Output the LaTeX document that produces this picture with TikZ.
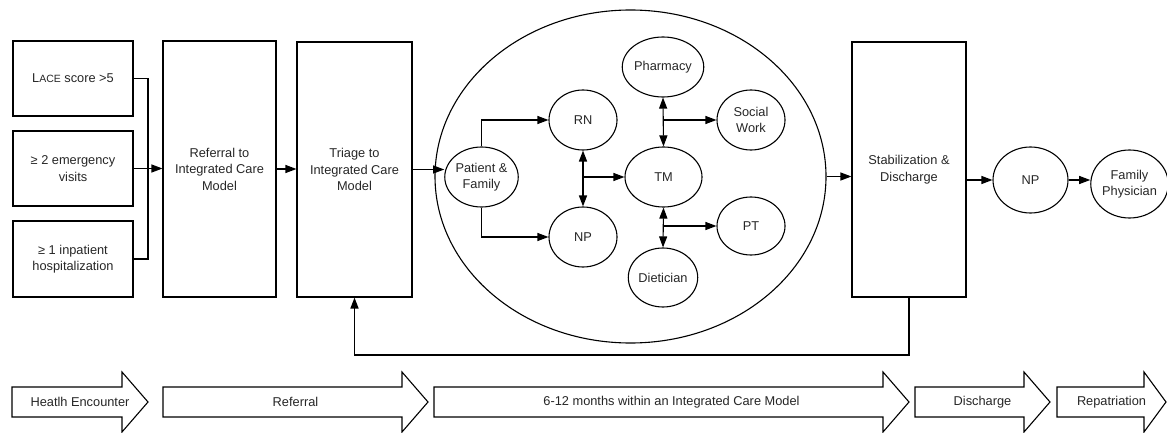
\documentclass[tikz,border=0pt]{standalone}
\usepackage{fontspec}
\setmainfont{Liberation Sans}
\usetikzlibrary{arrows.meta,shapes.geometric}
\begin{document}
\begin{tikzpicture}[x=1pt,y=-1pt,
  every node/.style={font=\fontsize{12.8}{16.5}\selectfont, text=black!85},
  box/.style={draw, line width=1.1pt, rectangle, inner sep=0pt, align=center},
  oval/.style={draw, line width=1.1pt, ellipse, inner sep=0pt, align=center},
  conn/.style={line width=1.1pt, -{Triangle[length=11pt,width=8pt]}},
  dconn/.style={line width=1.6pt, {Triangle[length=11pt,width=8pt]}-{Triangle[length=11pt,width=8pt]}},
  barrow/.style={draw, line width=1.1pt, fill=white}]
\useasboundingbox (0,0) rectangle (1167,433);
% left criteria boxes
\node[box, minimum width=120pt, minimum height=75pt] (lace) at (73,78.5) {L{\fontsize{10.5}{12}\selectfont ACE} score >5};
\node[box, minimum width=120pt, minimum height=75pt] (emerg) at (73,168.5) {≥ 2 emergency\\visits};
\node[box, minimum width=120pt, minimum height=76pt] (inpat) at (73,259) {≥ 1 inpatient\\hospitalization};
\node[box, minimum width=113pt, minimum height=256pt] (refer) at (219.5,169) {Referral to\\Integrated Care\\Model};
\node[box, minimum width=115pt, minimum height=255pt] (triage) at (354.5,169.5) {Triage to\\Integrated Care\\Model};
\node[oval, minimum width=391pt, minimum height=333pt] (big) at (630.5,176.5) {};
\node[box, minimum width=114pt, minimum height=255pt] (stab) at (909,169.5) {Stabilization \&\\Discharge};
% inner nodes
\node[oval, minimum width=70pt, minimum height=60pt] (pf) at (481.5,177) {Patient \&\\Family};
\node[oval, minimum width=68pt, minimum height=60pt] (rn) at (583,120) {RN};
\node[oval, minimum width=68pt, minimum height=60pt] (np) at (583,237) {NP};
\node[oval, minimum width=77pt, minimum height=60pt] (tm) at (663.5,177) {TM};
\node[oval, minimum width=68pt, minimum height=60pt] (ph) at (663,67) {Pharmacy};
\node[oval, minimum width=68pt, minimum height=59pt] (di) at (663,277.5) {Dietician};
\node[oval, minimum width=68pt, minimum height=60pt] (sw) at (751,120) {Social\\Work};
\node[oval, minimum width=68pt, minimum height=58pt] (pt) at (751,226) {PT};
% right nodes
\node[oval, minimum width=75pt, minimum height=66pt] (np2) at (1030.5,180) {NP};
\node[oval, minimum width=69pt, minimum height=68pt] (fp) at (1129.5,184) {Family\\Physician};
% connectors left
\coordinate (jn) at (148,78.5);
\draw[line width=1.6pt] (lace.east) -- (jn) |- (inpat.east);
\draw[conn] (emerg.east) -- (emerg.east -| refer.west);
\draw[conn] (refer.east) -- (refer.east -| triage.west);
\draw[conn] (triage.east) -- (triage.east -| pf.west);
% inner connectors
\draw[conn] (pf.north) |- (rn.west);
\draw[conn] (pf.south) |- (np.west);
\draw[dconn] (rn.south) -- (np.north);
\coordinate (c1) at (583,177);
\draw[conn] (c1) -- (tm.west);
\draw[dconn, line width=1.1pt] (ph.south) -- (tm.north);
\coordinate (c2) at (663,120);
\draw[conn] (c2) -- (sw.west);
\draw[dconn, line width=1.1pt] (tm.south) -- (di.north);
\coordinate (c3) at (663,226);
\draw[conn] (c3) -- (pt.west);
% right connectors
\draw[conn] (big.east) -- (big.east -| stab.west);
\draw[conn] (np2.west -| stab.east) -- (np2.west);
\draw[conn] (np2.east) -- (np2.east -| fp.west);
\coordinate (fb) at (909,355);
\draw[conn, line width=1.6pt] (stab.south) -- (fb) -| (triage.south);
% bottom phase arrows
\foreach \xa/\xs/\xt/\lab in {12/122/148/Heatlh Encounter, 163/402/428/Referral, 434/883/909/6-12 months within an Integrated Care Model, 915/1024/1050/Discharge, 1057/1144/1166/Repatriation}{
  \draw[barrow] (\xa,387) -- (\xs,387) -- (\xs,372) -- (\xt,402) -- (\xs,432) -- (\xs,417) -- (\xa,417) -- cycle;
  \node at ({(\xa+\xt)/2},402) {\lab};
}
\end{tikzpicture}
\end{document}
